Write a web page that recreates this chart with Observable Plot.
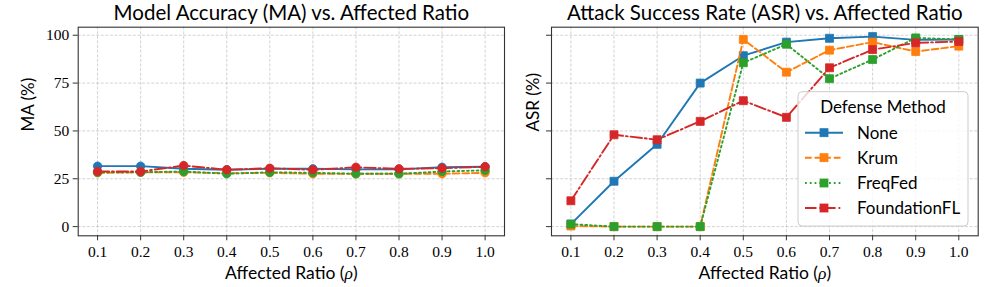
<!DOCTYPE html>
<html><head><meta charset="utf-8">
<script src="https://cdn.jsdelivr.net/npm/d3@7"></script>
<script src="https://cdn.jsdelivr.net/npm/@observablehq/plot@0.6"></script>
<style>
body{margin:0;background:#fff}
#wrap{position:relative;width:997px;height:287px;overflow:hidden}
#wrap svg{position:absolute;top:0;overflow:visible}
</style>
</head><body><div id="wrap"></div>
<script>
const ratios = [0.1, 0.2, 0.3, 0.4, 0.5, 0.6, 0.7, 0.8, 0.9, 1.0];
const ratioLabels = ["0.1","0.2","0.3","0.4","0.5","0.6","0.7","0.8","0.9","1.0"];
const yTicks = [0, 25, 50, 75, 100];
const methods = ["None", "Krum", "FreqFed", "FoundationFL"];
const colors = ["#1f77b4", "#ff7f0e", "#2ca02c", "#d62728"];
const dashes = ["none", "6.7,2.9", "1.8,3", "11.5,2.9,1.8,2.9"];

const maNone         = [31.6, 31.6, 30.2, 29.7, 30.2, 30.2, 29.9, 29.9, 31.0, 31.3];
const maKrum         = [28.1, 28.4, 28.4, 27.9, 28.1, 27.6, 27.6, 27.6, 27.6, 28.1];
const maFreqFed      = [28.4, 28.4, 28.8, 27.6, 28.4, 28.1, 27.6, 27.6, 28.8, 29.4];
const maFoundationFL = [28.8, 28.8, 31.9, 29.7, 30.5, 29.7, 31.0, 30.2, 30.5, 31.3];

const asrNone         = [1.3, 23.7, 43.0, 75.0, 89.3, 96.4, 98.4, 99.3, 97.6, 97.8];
const asrKrum         = [0.3, 0.0, 0.0, 0.0, 97.8, 80.7, 92.2, 96.4, 91.5, 94.3];
const asrFreqFed      = [1.3, 0.0, 0.0, 0.0, 85.6, 95.3, 77.3, 87.3, 98.6, 97.8];
const asrFoundationFL = [13.5, 48.0, 45.4, 55.0, 65.8, 57.1, 83.0, 92.5, 96.0, 96.7];

const titleFont = "Lato, 'DejaVu Sans', sans-serif";
const tickFont = "'Liberation Serif', 'DejaVu Serif', serif";

function panel(opts) {
  const {title, ylabel, ylabelDx, series, symbol, r, showYLabels, width, marginLeft, marginRight} = opts;
  const gridStyle = {stroke: "#b0b0b0", strokeOpacity: 0.7, strokeWidth: 0.8, strokeDasharray: "3,1.6"};
  const marks = [
    Plot.gridX(ratios, gridStyle),
    Plot.gridY(yTicks, gridStyle),
    Plot.axisX({ticks: ratios, tickFormat: d => ratioLabels[ratios.indexOf(d)], tickSize: 5, tickPadding: 5,
      fontSize: 15.5, fontFamily: tickFont, label: null, stroke: "#333"}),
    Plot.axisY({ticks: yTicks, tickFormat: showYLabels ? (d => String(d)) : (() => ""), tickSize: 5, tickPadding: 4,
      fontSize: 15.5, fontFamily: tickFont, label: null, stroke: "#333"})
  ];
  series.forEach((vals, i) => {
    const data = ratios.map((x, j) => ({x, y: vals[j], m: methods[i]}));
    marks.push(Plot.line(data, {x: "x", y: "y", stroke: colors[i], strokeWidth: 1.9,
      strokeDasharray: dashes[i] === "none" ? undefined : dashes[i]}));
    marks.push(Plot.dot(data, {x: "x", y: "y", symbol, r, fill: colors[i], stroke: colors[i], strokeWidth: 0.8}));
  });
  marks.push(Plot.frame({stroke: "#333", strokeWidth: 1.1}));
  marks.push(Plot.text([title], {frameAnchor: "top", dy: -7, lineAnchor: "bottom", fontSize: 20.5, fontFamily: titleFont, fill: "#000"}));
  marks.push(Plot.text(["Affected Ratio (ρ)"], {frameAnchor: "bottom", dy: 37.5, lineAnchor: "middle", fontSize: 17.5, fontFamily: titleFont, fill: "#000"}));
  marks.push(Plot.text([ylabel], {frameAnchor: "left", dx: ylabelDx, rotate: -90, lineAnchor: "middle", fontSize: 17, fontFamily: titleFont, fill: "#000"}));
  return Plot.plot({
    width, height: 287,
    marginTop: 26.7, marginBottom: 51.7, marginLeft, marginRight,
    x: {domain: [0.055, 1.045]},
    y: {domain: [-4.8, 104.2]},
    style: {background: "transparent", color: "#000"},
    marks
  });
}

const wrap = document.getElementById("wrap");

const left = panel({
  title: "Model Accuracy (MA) vs. Affected Ratio", ylabel: "MA (%)", ylabelDx: -50,
  series: [maNone, maKrum, maFreqFed, maFoundationFL], symbol: "circle", r: 4.2, showYLabels: true,
  width: 515, marginLeft: 77.7, marginRight: 11
});
left.style.left = "0px";
wrap.appendChild(left);

const rightX = 515;
const right = panel({
  title: "Attack Success Rate (ASR) vs. Affected Ratio", ylabel: "ASR (%)", ylabelDx: -17.5,
  series: [asrNone, asrKrum, asrFreqFed, asrFoundationFL], symbol: "square", r: 4.5, showYLabels: false,
  width: 482, marginLeft: 36, marginRight: 19.3
});
right.style.left = rightX + "px";
wrap.appendChild(right);

// italic rho in axis labels
d3.selectAll("#wrap svg text").each(function() {
  const t = d3.select(this);
  if (t.text() === "Affected Ratio (ρ)") {
    t.text(null);
    t.append("tspan").text("Affected Ratio (");
    t.append("tspan").attr("font-family", tickFont).attr("font-style", "italic").text("ρ");
    t.append("tspan").text(")");
  }
});

// legend (matplotlib-style) inside the right panel
const lg = d3.select(right).append("g").attr("font-family", titleFont).attr("font-size", 17).attr("text-anchor", "start");
const lx0 = 798 - rightX, lx1 = 968 - rightX;
lg.append("rect").attr("x", lx0).attr("y", 91.7).attr("width", lx1 - lx0).attr("height", 226 - 91.7)
  .attr("rx", 4).attr("fill", "#ffffff").attr("fill-opacity", 0.8).attr("stroke", "#cccccc").attr("stroke-width", 1);
lg.append("text").attr("x", (lx0 + lx1) / 2).attr("y", 106.7).attr("dy", "0.35em").attr("text-anchor", "middle").attr("fill", "#000").text("Defense Method");
const rowY = [132.7, 157.7, 183, 208];
methods.forEach((m, i) => {
  const y = rowY[i];
  lg.append("line").attr("x1", 805 - rightX).attr("x2", 843 - rightX).attr("y1", y).attr("y2", y)
    .attr("stroke", colors[i]).attr("stroke-width", 1.9).attr("stroke-dasharray", dashes[i]);
  const s = 8;
  lg.append("rect").attr("x", 824 - rightX - s / 2).attr("y", y - s / 2).attr("width", s).attr("height", s)
    .attr("fill", colors[i]).attr("stroke", colors[i]).attr("stroke-width", 0.8);
  lg.append("text").attr("x", 857 - rightX).attr("y", y).attr("dy", "0.35em").attr("text-anchor", "start").attr("fill", "#000").text(m);
});
</script>
</body></html>
